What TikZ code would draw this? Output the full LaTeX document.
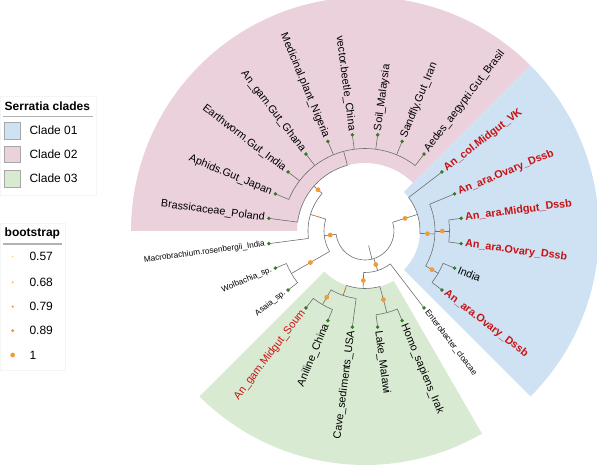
\documentclass[tikz,border=0pt]{standalone}
\usepackage{fontspec}
\setmainfont{Liberation Sans}
\definecolor{bluec}{HTML}{CFE2F3}
\definecolor{pinkc}{HTML}{EAD1DC}
\definecolor{greenc}{HTML}{D9EAD3}
\definecolor{branchc}{HTML}{6E6E6E}
\definecolor{tipg}{HTML}{357A25}
\definecolor{boot}{HTML}{F09B38}
\definecolor{redlab}{HTML}{C81212}
\usetikzlibrary{shapes.geometric}
\newcommand\tarc[3]{\draw[br] (#1:#3) arc[start angle=#1,end angle=#2,radius=#3];}
\newcommand\tbranch[4]{\coordinate (#1-s) at (#2:#3);\coordinate (#1) at (#2:#4);\draw[br] (#1-s) -- (#1);}
\newcommand\bdot[3]{\fill[boot] (#1:#2) circle (#3);}
\begin{document}
\begin{tikzpicture}[x=1pt,y=1pt,
  br/.style={draw=branchc,line width=0.6pt},
  labn/.style={font=\fontsize{10.8}{12}\selectfont,inner sep=0pt,text=black},
  labs/.style={font=\fontsize{8.2}{9}\selectfont,inner sep=0pt,text=black},
  labr/.style={font=\fontsize{10.8}{12}\selectfont\bfseries,inner sep=0pt,text=redlab},
  labq/.style={font=\fontsize{10.8}{12}\selectfont,inner sep=0pt,text=redlab},
  lside/.style={rotate=#1+180,anchor=east},
  rside/.style={rotate=#1,anchor=west},
  tipdot/.style={diamond,fill=tipg,inner sep=0pt,minimum size=4pt},
  legt/.style={font=\fontsize{12}{14}\selectfont,inner sep=0pt,anchor=west},
  legh/.style={font=\fontsize{12}{14}\selectfont\bfseries,inner sep=0pt,anchor=west},
  keybox/.style={draw=gray!70,line width=0.5pt}]
\useasboundingbox (0,0) rectangle (597,465);
\clip (0,0) rectangle (597,465);
\begin{scope}[shift={(365,234)}]
% clade highlights
\fill[pinkc] (45:68) -- (45:234) arc[start angle=45,end angle=180,radius=234] -- (180:68) arc[start angle=180,end angle=45,radius=68] -- cycle;
\fill[bluec] (-45:55) -- (-45:234) arc[start angle=-45,end angle=45,radius=234] -- (45:55) arc[start angle=45,end angle=-45,radius=55] -- cycle;
\fill[greenc] (-135:57.5) -- (-135:234) arc[start angle=-135,end angle=-60,radius=234] -- (-60:57.5) arc[start angle=-60,end angle=-135,radius=57.5] -- cycle;
% root
\tbranch{nR}{-76}{15}{29}
\tarc{-173.4}{17.5}{29}
% clade 01
\tbranch{nB}{17.5}{29}{55}
\tarc{-2.5}{37.5}{55}
\tbranch{nC}{-2.5}{55}{70}
\tarc{-30}{22.5}{70}
\tbranch{nD}{0}{70}{84.5}
\tarc{-7.5}{7.5}{84.5}
\tbranch{nE}{-30}{70}{84.5}
\tarc{-37.5}{-22.5}{84.5}
% lower group
\tbranch{nX}{-72.2}{29}{41.5}
\tarc{-91.9}{-52.5}{41.5}
\tbranch{nY}{-91.9}{41.5}{57.5}
\tarc{-108.75}{-75}{57.5}
\tbranch{nZ}{-108.75}{57.5}{68}
\tarc{-120}{-97.5}{68}
\tbranch{nW}{-120}{68}{85}
\tarc{-127.5}{-112.5}{85}
\tbranch{nV}{-75}{57.5}{84.5}
\tarc{-82.5}{-67.5}{84.5}
% left group
\tbranch{nL}{186.6}{29}{41}
\tarc{163.1}{210}{41}
\tbranch{nM}{163.1}{41}{57}
\tarc{138.75}{187.5}{57}
\tbranch{nP}{138.75}{57}{68}
\tarc{105}{172.5}{68}
\tbranch{nQ}{105}{68}{82.5}
\tarc{52.5}{157.5}{82.5}
\tbranch{nWA}{210}{41}{85}
\tarc{202.5}{217.5}{85}
% tips
\foreach \n/\a/\p/\t/\s/\d in {
 t1/172.5/68/{Brassicaceae\_Poland}/labn/lside,
 t2/157.5/82.5/{Aphids.Gut\_Japan}/labn/lside,
 t3/142.5/82.5/{Earthworm.Gut\_India}/labn/lside,
 t4/127.5/82.5/{An\_gam.Gut\_Ghana}/labn/lside,
 t5/112.5/82.5/{Medicinal.plant\_Nigeria}/labn/lside,
 t6/97.5/82.5/{vector.beetle\_China}/labn/lside,
 t7/82.5/82.5/{Soil\_Malaysia}/labn/rside,
 t8/67.5/82.5/{Sandfly.Gut\_Iran}/labn/rside,
 t9/52.5/82.5/{Aedes\_aegypti.Gut\_Brasil}/labn/rside,
 t10/37.5/55/{An\_col.Midgut\_VK}/labr/rside,
 t11/22.5/70/{An\_ara.Ovary\_Dssb}/labr/rside,
 t12/7.5/84.5/{An\_ara.Midgut\_Dssb}/labr/rside,
 t13/-7.5/84.5/{An\_ara.Ovary\_Dssb}/labr/rside,
 t14/-22.5/84.5/{India}/labn/rside,
 t15/-37.5/84.5/{An\_ara.Ovary\_Dssb}/labr/rside,
 t16/-52.5/41.5/{Enterobacter\_cloacae}/labs/rside,
 t17/-67.5/84.5/{Homo\_sapiens\_Irak}/labn/rside,
 t18/-82.5/84.5/{Lake\_Malawi}/labn/rside,
 t19/-97.5/68/{Cave\_sediments\_USA}/labn/lside,
 t20/-112.5/85/{Aniline\_China}/labn/lside,
 t21/-127.5/85/{An\_gam.Midgut\_Soum}/labq/lside,
 t22/-142.5/85/{Asaia\_sp.}/labs/lside,
 t23/-157.5/85/{Wolbachia\_sp.}/labs/lside,
 t24/-172.5/57/{Macrobrachium.rosenbergii\_India}/labs/lside}{
  \coordinate (\n-s) at (\a:\p);
  \coordinate (\n-e) at (\a:97);
  \draw[br] (\n-s) -- (\n-e);
  \node[tipdot] (\n) at (\n-e) {};
  \node[\s,\d=\a] (\n-l) at (\a:101) {\t};
}
% bootstrap points
\bdot{17.5}{42}{2.4}
\bdot{-2.5}{62.5}{2.4}
\bdot{0}{77.25}{2.4}
\bdot{-30}{77.25}{2.4}
\bdot{-72.2}{35.25}{2.4}
\bdot{-91.9}{49.5}{2.4}
\bdot{-108.75}{62.75}{0.8}
\bdot{-120}{76.5}{2.4}
\bdot{-75}{71}{2.4}
\bdot{186.6}{35}{2.4}
\bdot{163.1}{49}{0.7}
\bdot{138.75}{62.5}{2.4}
\bdot{210}{63}{2.4}
\end{scope}
% legend: clades
\fill[white,draw=gray!8] (0,368.3) rectangle (96,270);
\node[legh] (lh1) at (4.5,358.3) {Serratia clades};
\draw[gray!60,line width=1.2pt] (3.3,348.3) -- (92.7,348.3);
\draw[keybox,fill=bluec] (4,326) rectangle (20.7,342.7);
\node[legt] (lc1) at (29.3,334.3) {Clade 01};
\draw[keybox,fill=pinkc] (4,302.3) rectangle (20.7,318.8);
\node[legt] (lc2) at (29.3,310.5) {Clade 02};
\draw[keybox,fill=greenc] (4,278) rectangle (20.7,294.6);
\node[legt] (lc3) at (29.3,286.3) {Clade 03};
% legend: bootstrap
\fill[white,draw=gray!8] (0,242) rectangle (65,95);
\node[legh] (lh2) at (4.5,231.7) {bootstrap};
\draw[gray!60,line width=1.2pt] (3.3,221) -- (62.3,221);
\fill[boot] (12.7,208.3) circle (0.5);
\node[legt] (lb1) at (29.3,208.3) {0.57};
\fill[boot] (12.7,182.7) circle (0.85);
\node[legt] (lb2) at (29.3,182.7) {0.68};
\fill[boot] (12.7,158.3) circle (1.2);
\node[legt] (lb3) at (29.3,158.3) {0.79};
\fill[boot] (12.7,134.3) circle (1.65);
\node[legt] (lb4) at (29.3,134.3) {0.89};
\fill[boot] (12.7,110) circle (2.35);
\node[legt] (lb5) at (29.3,110) {1};
\end{tikzpicture}
\end{document}
